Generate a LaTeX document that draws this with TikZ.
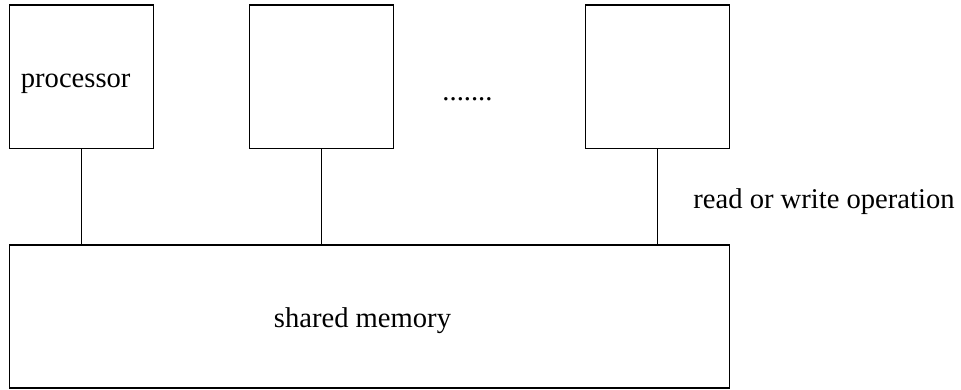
\documentclass[tikz,border=0pt]{standalone}
\usepackage{fontspec}
\setmainfont{Liberation Serif}
\begin{document}
\begin{tikzpicture}[x=1pt,y=-1pt,
  unitbox/.style={draw=black,line width=1.2pt,minimum width=144pt,minimum height=143.5pt,inner sep=0pt},
  membox/.style={draw=black,line width=1.2pt,minimum width=720pt,minimum height=143pt,inner sep=0pt},
  wire/.style={draw=black,line width=1.1pt},
  lbl/.style={anchor=base,inner sep=0pt,font=\fontsize{28.6}{34}\selectfont}]
  \useasboundingbox (0,0) rectangle (961,390);
  % processors
  \node[unitbox] (p1) at (81.5,76.75) {};
  \node[unitbox] (p2) at (321.5,76.75) {};
  \node[unitbox] (p3) at (657.5,76.75) {};
  % shared memory
  \node[membox] (mem) at (369.5,316.5) {};
  % labels
  \node[lbl] (tproc) at (75.7,87.3) {processor};
  \node[lbl] (tdots) at (467.5,101) {.......};
  \node[lbl] (tops) at (824,208) {read or write operation};
  \node[lbl] (tmem) at (362.5,327.7) {shared memory};
  % connections to memory
  \draw[wire] (p1.south) -- (p1.south |- mem.north);
  \draw[wire] (p2.south) -- (p2.south |- mem.north);
  \draw[wire] (p3.south) -- (p3.south |- mem.north);
\end{tikzpicture}
\end{document}
